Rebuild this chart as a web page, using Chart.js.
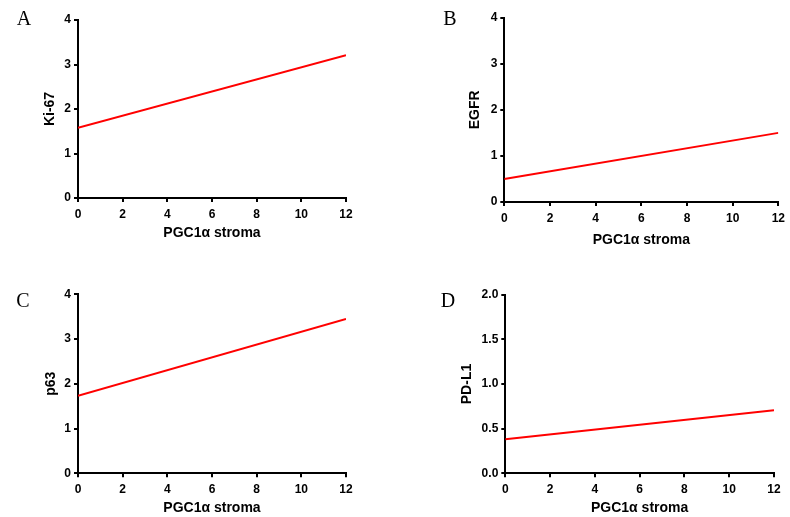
<!DOCTYPE html>
<html lang="en">
<head>
    <meta charset="UTF-8">
    <title>PGC1α stroma</title>
    <script src="https://cdn.jsdelivr.net/npm/chart.js"></script>
    <style>
        body { margin: 0; background: #fff; }
        #wrap { position: relative; width: 790px; height: 517px; overflow: hidden; }
        #wrap canvas { position: absolute; }
        .tag { position: absolute; font-family: "Liberation Serif", "Times New Roman", serif; font-size: 20px; line-height: 1; transform: translate(-50%, -50%); color: #000; }
    </style>
</head>
<body>
<div id="wrap"></div>
<script>
// data
const xValues = [0, 12];
const ki67 = [1.58, 3.21];
const egfr = [0.50, 1.50];
const p63 = [1.73, 3.45];
const pdl1 = [0.38, 0.705];

const panelLabels = ['A', 'B', 'C', 'D'];
const yTitles = ['Ki-67', 'EGFR', 'p63', 'PD-L1'];
const xTitle = 'PGC1\u03b1 stroma';
const yMax = [4, 4, 4, 2];
const yStep = [1, 1, 1, 0.5];
const yDecimals = [0, 0, 0, 1];
const seriesList = [ki67, egfr, p63, pdl1];

// layout of each panel (pixels)
const boxes = [
    { left: 0,   top: 0,   w: 395, h: 258, cl: 78,    cr: 346,   ct: 20,   cb: 198,   ytx: 50,   xty: 233.3, tx: 24,  ty: 17.5 },
    { left: 395, top: 0,   w: 395, h: 258, cl: 109.3, cr: 387.3, ct: 17.7, cb: 202,   ytx: 80,   xty: 240,   tx: 450, ty: 18 },
    { left: 0,   top: 258, w: 395, h: 259, cl: 78,    cr: 346,   ct: 36.3, cb: 215.3, ytx: 51,   xty: 250.3, tx: 23,  ty: 300 },
    { left: 395, top: 258, w: 395, h: 259, cl: 110.3, cr: 379,   ct: 36.7, cb: 215.3, ytx: 71.7, xty: 250.3, tx: 448, ty: 300 }
];

const wrap = document.getElementById('wrap');
const tickFont = { family: '"Liberation Sans", Arial, sans-serif', size: 12, weight: 'bold' };
const titleFont = { family: '"Liberation Sans", Arial, sans-serif', size: 14, weight: 'bold', lineHeight: 1.2 };
const axisGrid = { display: true, drawOnChartArea: false, drawTicks: true, tickLength: 4, color: '#000', lineWidth: 2 };
const axisBorder = { display: true, color: '#000', width: 2 };

boxes.forEach(function(b, i) {
    const canvas = document.createElement('canvas');
    canvas.width = b.w;
    canvas.height = b.h;
    canvas.style.left = b.left + 'px';
    canvas.style.top = b.top + 'px';
    wrap.appendChild(canvas);

    const tag = document.createElement('div');
    tag.className = 'tag';
    tag.style.left = b.tx + 'px';
    tag.style.top = b.ty + 'px';
    tag.innerText = panelLabels[i];
    wrap.appendChild(tag);

    const half = titleFont.size * titleFont.lineHeight / 2;
    const points = xValues.map((x, k) => ({ x: x, y: seriesList[i][k] }));

    new Chart(canvas.getContext('2d'), {
        type: 'line',
        data: {
            datasets: [{
                data: points,
                borderColor: '#ff0000',
                borderWidth: 2,
                pointRadius: 0,
                tension: 0,
                fill: false
            }]
        },
        options: {
            responsive: false,
            animation: false,
            events: [],
            layout: { padding: { top: b.ct, right: b.w - b.cr, left: 0, bottom: 0 } },
            plugins: { legend: { display: false }, tooltip: { enabled: false } },
            scales: {
                x: {
                    type: 'linear',
                    min: 0, max: 12,
                    ticks: { stepSize: 2, color: '#000', font: tickFont, padding: 5, maxRotation: 0 },
                    grid: axisGrid,
                    border: axisBorder,
                    title: { display: true, text: xTitle, color: '#000', font: titleFont, padding: { top: 0, bottom: b.h - b.xty - half } },
                    afterFit: function(s) { s.height = b.h - b.cb; }
                },
                y: {
                    type: 'linear',
                    min: 0, max: yMax[i],
                    ticks: {
                        stepSize: yStep[i], color: '#000', font: tickFont, padding: 3,
                        callback: v => v.toFixed(yDecimals[i])
                    },
                    grid: axisGrid,
                    border: axisBorder,
                    title: { display: true, text: yTitles[i], color: '#000', font: titleFont, padding: { top: b.ytx - half, bottom: 0 } },
                    afterFit: function(s) { s.width = b.cl; }
                }
            }
        }
    });
});
</script>
</body>
</html>
